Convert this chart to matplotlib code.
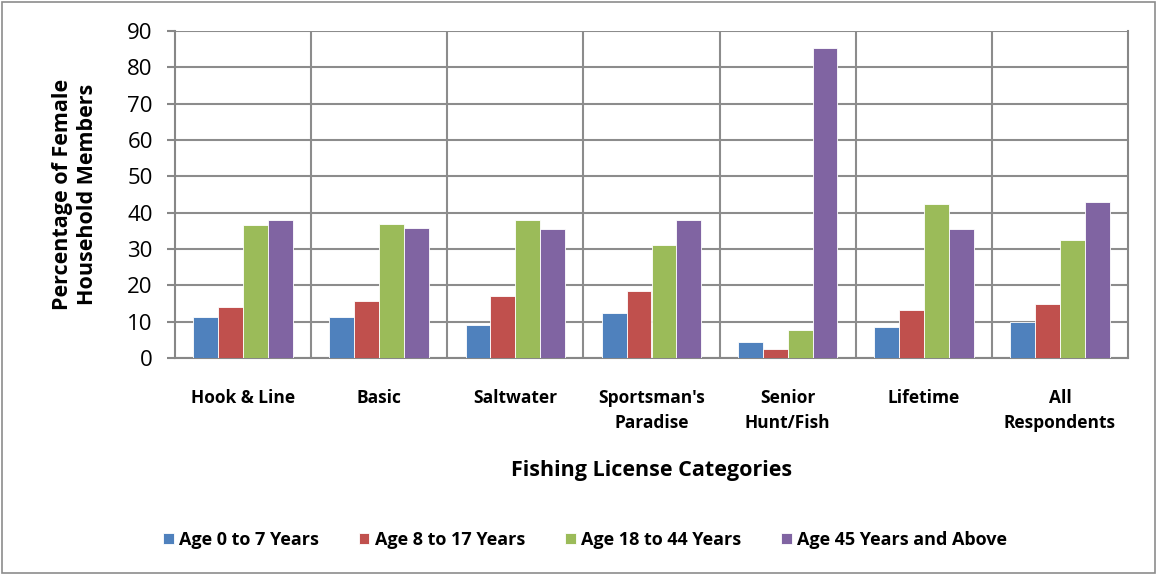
import matplotlib
matplotlib.use("Agg")
import matplotlib.pyplot as plt
import numpy as np
from matplotlib.patches import Rectangle

categories = ["Hook & Line", "Basic", "Saltwater", "Sportsman's\nParadise",
              "Senior\nHunt/Fish", "Lifetime", "All\nRespondents"]
series_names = ["Age 0 to 7 Years", "Age 8 to 17 Years", "Age 18 to 44 Years",
                "Age 45 Years and Above"]
age_0_7 = [11.2, 11.3, 9.2, 12.5, 4.4, 8.6, 9.9]
age_8_17 = [14.1, 15.8, 17.0, 18.4, 2.6, 13.2, 14.8]
age_18_44 = [36.6, 36.8, 38.1, 31.0, 7.6, 42.3, 32.5]
age_45_up = [38.0, 35.9, 35.4, 37.9, 85.2, 35.6, 42.8]
colors = ["#4F81BD", "#C0504D", "#9BBB59", "#8064A2"]
yticks = [0, 10, 20, 30, 40, 50, 60, 70, 80, 90]

plt.rcParams['font.family'] = ['Open Sans', 'DejaVu Sans']

fig = plt.figure(figsize=(11.57, 5.75), dpi=100)
ax = fig.add_axes([175/1157, 1 - 358/575, (1128-175)/1157, (358-31)/575])

data = [age_0_7, age_8_17, age_18_44, age_45_up]
x = np.arange(len(categories))
w = 0.183
for i, (vals, c, name) in enumerate(zip(data, colors, series_names)):
    ax.bar(x + (i - 1.5) * w, vals, width=w, color=c, edgecolor="white",
           linewidth=0.6, label=name, zorder=3)

ax.set_xlim(-0.5, len(categories) - 0.5)
ax.set_ylim(0, 90)
ax.set_yticks(yticks)
ax.set_yticklabels([str(t) for t in yticks], fontsize=16)
ax.set_xticks(x)
ax.set_xticklabels(categories, fontsize=12.5, fontweight="bold", linespacing=1.55)
ax.tick_params(axis="x", length=0, pad=22)
ax.tick_params(axis="y", length=6, width=1.5, color="#878787", pad=10)

ax.grid(axis="y", color="#8c8c8c", linewidth=1.5, zorder=0)
for b in np.arange(0.5, len(categories) - 0.5, 1):
    ax.axvline(b, color="#8c8c8c", linewidth=1.5, zorder=0)
for s in ["left", "bottom", "right"]:
    ax.spines[s].set_color("#878787")
    ax.spines[s].set_linewidth(1.5)
ax.spines["top"].set_visible(False)

ax.set_ylabel("Percentage of Female\nHousehold Members", fontsize=15.5,
              fontweight="bold", labelpad=21, linespacing=1.25)
ax.set_xlabel("Fishing License Categories", fontsize=15.5, fontweight="bold",
              labelpad=20)

fig.legend(loc="center", bbox_to_anchor=(585/1157, 1 - 540/575), ncol=4,
           frameon=False, prop={"weight": "bold", "size": 13},
           handlelength=0.6, handleheight=0.6, handletextpad=0.3,
           columnspacing=2.2)

fig.patches.append(Rectangle((2/1157, 2/575), 1 - 4/1157, 1 - 4/575,
                             transform=fig.transFigure, fill=False,
                             edgecolor="#8c8c8c", linewidth=1.2))

fig.savefig("out.png", dpi=100)
